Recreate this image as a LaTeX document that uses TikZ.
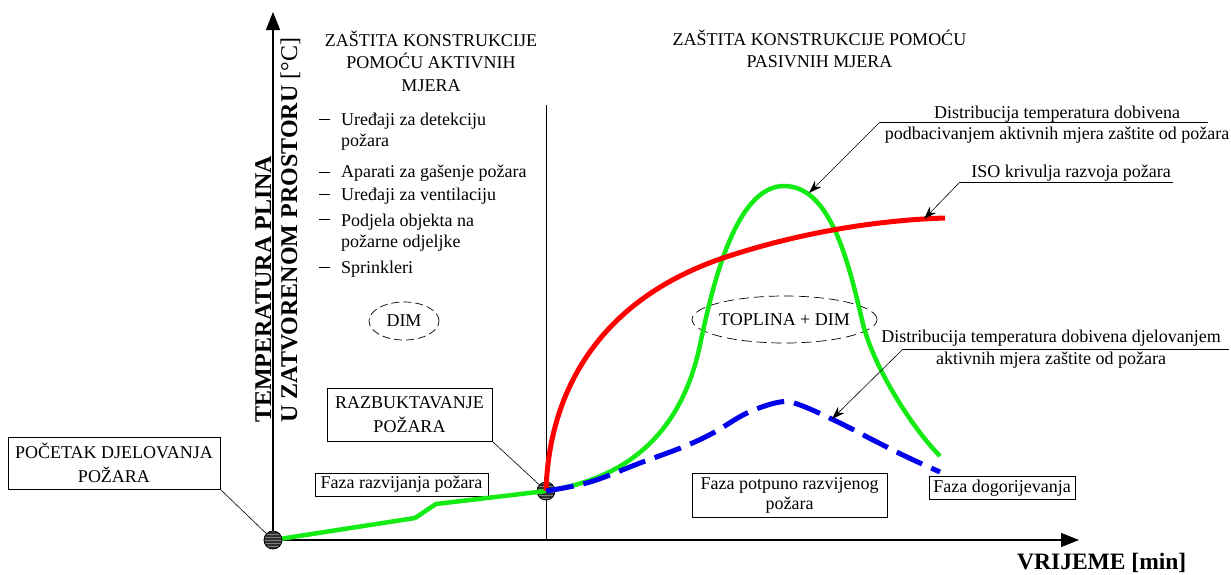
\documentclass[tikz,border=0pt]{standalone}
\usepackage{fontspec}
\setmainfont{Liberation Serif}
\usetikzlibrary{arrows.meta,shapes.geometric,patterns}
\definecolor{cgreen}{RGB}{20,235,20}
\definecolor{cred}{RGB}{255,0,0}
\definecolor{cblue}{RGB}{0,0,235}
\tikzset{
 txt/.style={font=\fontsize{18}{21}\selectfont, inner sep=0pt},
 boxed/.style={txt, draw, line width=0.9pt, align=center, font=\fontsize{18}{24}\selectfont},
 leader/.style={line width=0.6pt},
 tipleader/.style={leader, -{Stealth[length=13pt,width=9pt]}},
 axisline/.style={line width=1.2pt, -{Triangle[length=18pt,width=14pt]}},
 dimell/.style={txt, ellipse, draw, dash pattern=on 8pt off 4pt, line width=0.7pt},
 curvegreen/.style={cgreen, line width=4.5pt},
 curvered/.style={cred, line width=5pt},
 curveblue/.style={cblue, line width=5pt, dash pattern=on 28pt off 10pt},
 fireball/.style={circle, minimum size=18pt, inner sep=0pt, draw=black, line width=0.8pt, preaction={fill=black!82}, pattern=horizontal lines, pattern color=black!50},
 bulletdash/.style={line width=0.8pt},
 axlabel/.style={font=\fontsize{24}{24}\selectfont\bfseries, inner sep=0pt, rotate=90, anchor=base west},
}
\begin{document}
\begin{tikzpicture}[x=1pt,y=-1pt]
\useasboundingbox (0,0) rectangle (1231,574);
% axes
\coordinate (O) at (273,540);
\coordinate (ytip) at (273,12);
\coordinate (xtip) at (1079,540);
\draw[axisline] (O) -- (ytip);
\draw[axisline] (O) -- (xtip);
\coordinate (divtop) at (546,105);
\coordinate (divbot) at (546,540);
\draw[line width=0.8pt] (divtop) -- (divbot);
% axis labels
\node[axlabel] (ylab1) at (271,423) {TEMPERATURA PLINA};
\node[axlabel] (ylab2) at (297,423) {U ZATVORENOM PROSTORU {\mdseries [°C]}};
\node[font=\fontsize{23.5}{24}\selectfont\bfseries, inner sep=0pt, anchor=base west] (xlab) at (1017,569) {VRIJEME [min]};
% titles
\node[txt, align=center, font=\fontsize{18}{22.5}\selectfont] (tleft) at (431,61) {ZAŠTITA KONSTRUKCIJE\\POMOĆU AKTIVNIH\\MJERA};
\node[txt, align=center, font=\fontsize{18}{21.5}\selectfont] (tright) at (819.5,49) {ZAŠTITA KONSTRUKCIJE POMOĆU\\PASIVNIH MJERA};
% list
\node[txt, anchor=base west] (l1a) at (341,125) {Uređaji za detekciju};
\node[txt, anchor=base west] (l1b) at (341,146) {požara};
\node[txt, anchor=base west] (l2) at (341,177) {Aparati za gašenje požara};
\node[txt, anchor=base west] (l3) at (341,200) {Uređaji za ventilaciju};
\node[txt, anchor=base west] (l4a) at (341,226) {Podjela objekta na};
\node[txt, anchor=base west] (l4b) at (341,247) {požarne odjeljke};
\node[txt, anchor=base west] (l5) at (341,273) {Sprinkleri};
\draw[bulletdash] (319,119) -- (330,119);
\draw[bulletdash] (319,172) -- (330,172);
\draw[bulletdash] (319,194) -- (330,194);
\draw[bulletdash] (319,219) -- (330,219);
\draw[bulletdash] (319,267) -- (330,267);
% ellipses
\node[dimell, minimum width=70pt, minimum height=38pt] (dim) at (404,321) {DIM};
\node[dimell, minimum width=145pt, minimum height=47pt, dash pattern=on 10pt off 5pt] (toplina) at (784.5,319.5) {TOPLINA + DIM};
% boxes
\node[boxed, minimum width=212pt, minimum height=52pt] (pocetak) at (114,463) {POČETAK DJELOVANJA\\POŽARA};
\node[boxed, minimum width=165pt, minimum height=53pt] (razb) at (409.5,414.5) {RAZBUKTAVANJE\\POŽARA};
\node[boxed, minimum width=173pt, minimum height=23pt] (frazv) at (401.5,484.5) {Faza razvijanja požara};
\node[boxed, font=\fontsize{18}{20}\selectfont, minimum width=195pt, minimum height=44pt] (fpot) at (789.5,495) {Faza potpuno razvijenog\\požara};
\node[boxed, minimum width=146pt, minimum height=23pt] (fdog) at (1002,488) {Faza dogorijevanja};
% second circle (under curves)
\node[fireball] (c1) at (546,491) {};
\draw[leader] (razb.south east) -- (c1);
% curves
\draw[curvegreen] (273,540) -- (415,518) -- (436,504) -- (546,491);
\draw[curvegreen] (546,491) .. controls (620,480) and (680,440) .. (700,345)
  .. controls (712,288) and (735,186) .. (784,186)
  .. controls (830,186) and (848,260) .. (862,320)
  .. controls (872,365) and (912,428) .. (940,456);
\draw[curvered] (546,491) .. controls (549,390) and (600,300) .. (723,258)
  .. controls (800,232) and (880,220) .. (945,218);
\draw[curveblue] plot[smooth, tension=0.6] coordinates {(546,491) (590,482) (640,463) (683,447) (713,433) (747,413) (780,402) (800,405) (840,423) (873,440) (907,457) (940,472)};
% origin circle
\node[fireball] (c0) at (273,540) {};
\draw[leader] (pocetak.south east) -- (c0);
% annotations
\node[txt, align=center] (ann1) at (1057,124.5) {Distribucija temperatura dobivena\\podbacivanjem aktivnih mjera zaštite od požara};
\coordinate (u1a) at (880,122);
\coordinate (u1b) at (1208,122);
\coordinate (t1) at (809,193);
\draw[leader] (u1a) -- (u1b);
\draw[tipleader] (u1a) -- (t1);
\node[txt] (ann2) at (1071,173) {ISO krivulja razvoja požara};
\coordinate (u2a) at (960,182);
\coordinate (u2b) at (1173,182);
\coordinate (t2) at (924,219);
\draw[leader] (u2a) -- (u2b);
\draw[tipleader] (u2a) -- (t2);
\node[txt, align=center, font=\fontsize{18}{22}\selectfont] (ann3) at (1051,349.5) {Distribucija temperatura dobivena djelovanjem\\aktivnih mjera zaštite od požara};
\coordinate (u3a) at (903,349);
\coordinate (u3b) at (1229,349);
\coordinate (t3) at (832,419);
\draw[leader] (u3a) -- (u3b);
\draw[tipleader] (u3a) -- (t3);
\end{tikzpicture}
\end{document}
